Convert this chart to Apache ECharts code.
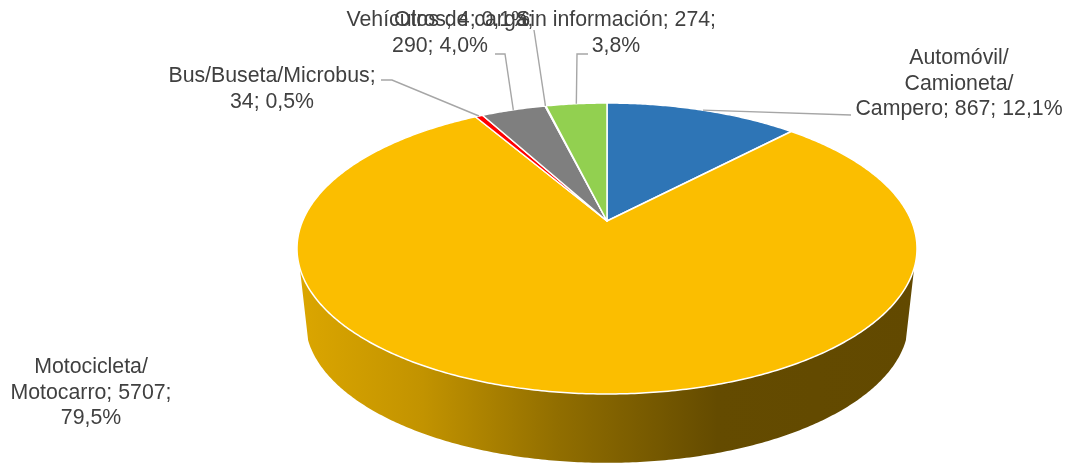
<!DOCTYPE html>
<html>
<head>
<meta charset="utf-8">
<style>
html, body { margin: 0; padding: 0; background: #fff; }
#main { width: 1067px; height: 463px; }
</style>
<script src="https://cdn.jsdelivr.net/npm/echarts@6/dist/echarts.min.js"></script>
</head>
<body>
<div id="main"></div>
<script>
var categories = ['Automóvil/\nCamioneta/\nCampero', 'Motocicleta/\nMotocarro', 'Bus/Buseta/Microbus', 'Vehículos de carga', 'Otros', 'Sin información'];
var values = [867, 5707, 34, 290, 4, 274];
var colors = ['#2E75B6', '#FBBE00', '#FF0000', '#7F7F7F', '#7030A0', '#92D050'];
var valueBreaks = [' ', ' ', '\n', '\n', ' ', ' '];
var percentBreaks = [' ', '\n', ' ', ' ', ' ', '\n'];

// label anchor (centre of the text block) and the elbow of the leader line
var labelPos = [[959, 84], [91, 393], [272, 89], [440, 33], [462, 20], [616, 33]];
var leaderEnds = [[[851, 115]], null, [[381, 80], [392, 80]], [[495, 54], [505, 54]], [[534, 30]], [[588, 54], [577, 54]]];

var total = values.reduce(function (a, b) { return a + b; }, 0);
var starts = [];
values.reduce(function (sum, v, i) { starts[i] = sum; return sum + v; }, 0);

function angleOf(v) { return v / total * 2 * Math.PI; }

// perspective view of the disc, apex of the slices is not in the ellipse centre
var view = { cx: 607, cy: 221, a: 304.4, b: 140.3, c: -0.189 };
var depth = { scale: 0.973, dy: 73.5 };
var wallFrom = 108.4 / 180 * Math.PI, wallTo = 251.6 / 180 * Math.PI;

function rim(t, bottom) {
	var u = Math.sin(t), v = -Math.cos(t), k = 1 + view.c * v;
	var s = bottom ? depth.scale : 1;
	return [
		view.cx + s * view.a * u / k,
		view.cy + (bottom ? depth.dy : 0) + s * view.b * v / k
	];
}

function arc(t0, t1, bottom) {
	var n = Math.max(2, Math.ceil(Math.abs(t1 - t0) / 0.01)), pts = [];
	for (var i = 0; i <= n; i++) {
		pts.push(rim(t0 + (t1 - t0) * i / n, bottom));
	}
	return pts;
}

var tableRows = values.map(function (v, i) { return [i, v]; });

function renderWall(params, api) {
	var i = api.value(0);
	var t0 = Math.max(angleOf(starts[i]), wallFrom);
	var t1 = Math.min(angleOf(starts[i] + values[i]), wallTo);
	if (t1 <= t0) { return null; }
	return {
		type: 'polygon',
		shape: { points: arc(t0, t1, false).concat(arc(t1, t0, true)) },
		style: {
			fill: new echarts.graphic.LinearGradient(0, 0, 1, 0, [
				{ offset: 0, color: '#DBA600' },
				{ offset: 0.2, color: '#C29300' },
				{ offset: 0.42, color: '#916E00' },
				{ offset: 0.68, color: '#644B00' },
				{ offset: 1, color: '#624900' }
			]),
			stroke: null
		}
	};
}

function renderTop(params, api) {
	var i = api.value(0);
	var t0 = angleOf(starts[i]), t1 = angleOf(starts[i] + values[i]);
	return {
		type: 'polygon',
		shape: { points: [[view.cx, view.cy]].concat(arc(t0, t1, false)) },
		style: { fill: colors[i], stroke: '#fff', lineWidth: 1.5, lineJoin: 'round' }
	};
}

function labelText(i) {
	var pct = (values[i] / total * 100).toFixed(1).replace('.', ',') + '%';
	return categories[i] + ';' + valueBreaks[i] + values[i] + ';' + percentBreaks[i] + pct;
}

function renderLabel(params, api) {
	var i = api.value(0), children = [];
	if (leaderEnds[i]) {
		var mid = angleOf(starts[i] + values[i] / 2);
		children.push({
			type: 'polyline',
			shape: { points: leaderEnds[i].concat([rim(mid, false)]) },
			style: { fill: null, stroke: '#A6A6A6', lineWidth: 1.4 }
		});
	}
	children.push({
		type: 'text',
		style: {
			x: labelPos[i][0],
			y: labelPos[i][1],
			text: labelText(i),
			align: 'center',
			verticalAlign: 'middle',
			fill: '#404040',
			font: '21.3px "Liberation Sans", Arial, sans-serif',
			lineHeight: 25.5
		}
	});
	return { type: 'group', children: children };
}

var myChart = echarts.init(document.getElementById('main'), null, { renderer: 'canvas' });

var option = {
	animation: false,
	backgroundColor: '#fff',
	series: [
		{ type: 'custom', coordinateSystem: 'none', silent: true, data: tableRows, renderItem: renderWall, z: 1 },
		{ type: 'custom', coordinateSystem: 'none', silent: true, data: tableRows, renderItem: renderTop, z: 2 },
		{ type: 'custom', coordinateSystem: 'none', silent: true, data: tableRows, renderItem: renderLabel, z: 3 }
	]
};

myChart.setOption(option);
</script>
</body>
</html>
